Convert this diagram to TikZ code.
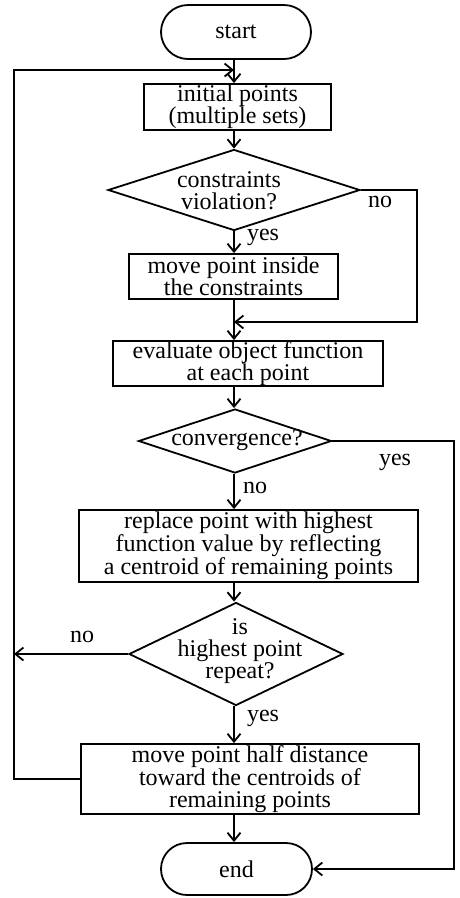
\documentclass[tikz,border=0pt]{standalone}
\usepackage{fontspec}
\setmainfont{Liberation Serif}
\usetikzlibrary{shapes.geometric,arrows.meta}
\begin{document}
\begin{tikzpicture}[x=1pt,y=-1pt, line width=1.8pt,
  txt/.style={font=\fontsize{24}{22}\selectfont, align=center, inner sep=0pt},
  box/.style={draw, rectangle, txt},
  term/.style={draw, rectangle, txt},
  dec/.style={draw, diamond, inner sep=0pt},
  arr/.style={-{Straight Barb[length=8pt,width=13pt]}},
  lbl/.style={txt}]
\useasboundingbox (0,0) rectangle (459,898);
\coordinate (ax) at (234,0);
\coordinate (lx) at (14,70);
% nodes
\node[term, rounded corners=27pt, minimum width=150pt, minimum height=54pt] (start) at (236,32) {start};
\node[box, minimum width=187pt, minimum height=46pt] (init) at (237.5,107) {initial points\\(multiple sets)};
\node[dec, minimum width=252pt, minimum height=81pt] (d1) at (234,190) {};
\node[txt] (d1t) at (229,191) {constraints\\violation?};
\node[box, minimum width=209pt, minimum height=45pt] (mv) at (233.5,276.5) {move point inside\\the constraints};
\coordinate (merge) at (234,322);
\node[box, minimum width=270pt, minimum height=45pt] (eval) at (248,363.5) {evaluate object function\\at each point};
\node[dec, minimum width=193pt, minimum height=64pt] (d2) at (235,441) {};
\node[txt] (d2t) at (237,440) {convergence?};
\node[box, minimum width=339pt, minimum height=72pt] (rep) at (248.5,546) {replace point with highest\\function value by reflecting\\a centroid of remaining points};
\node[dec, minimum width=214pt, minimum height=103pt] (d3) at (236,654) {};
\node[txt] (d3t) at (240,651) {is\\highest point\\repeat?};
\node[box, minimum width=338pt, minimum height=70pt] (half) at (250,779) {move point half distance\\toward the centroids of\\remaining points};
\node[term, rounded corners=26pt, minimum width=151pt, minimum height=52pt] (end) at (236.5,869) {end};
% labels
\node[lbl] (l1) at (263,237) {yes};
\node[lbl] (l2) at (380,202) {no};
\node[lbl] (l3) at (395,462) {yes};
\node[lbl] (l4) at (255,488) {no};
\node[lbl] (l5) at (82,637) {no};
\node[lbl] (l6) at (263,718) {yes};
% connectors
\coordinate (c1) at (417,322);
\coordinate (c2) at (454,869);
\draw[arr] (start.south -| ax) -- (init.north -| ax);
\draw[arr] (half.west) -| (lx) -- (lx -| ax);
\draw[arr] (init.south -| ax) -- (d1.north);
\draw[arr] (d1.south) -- (mv.north -| ax);
\draw[arr] (d1.east) -| (c1) -- (merge);
\draw (mv.south -| ax) -- (merge);
\draw[arr] (merge) -- (eval.north -| ax);
\draw[arr] (eval.south -| ax) -- (d2.north -| ax);
\draw[arr] (d2.east) -| (c2) -- (end.east);
\draw[arr] (d2.south -| ax) -- (rep.north -| ax);
\draw[arr] (rep.south -| ax) -- (d3.north -| ax);
\draw[arr] (d3.west) -- (d3.west -| lx);
\draw[arr] (d3.south -| ax) -- (half.north -| ax);
\draw[arr] (half.south -| ax) -- (end.north -| ax);
\end{tikzpicture}
\end{document}
